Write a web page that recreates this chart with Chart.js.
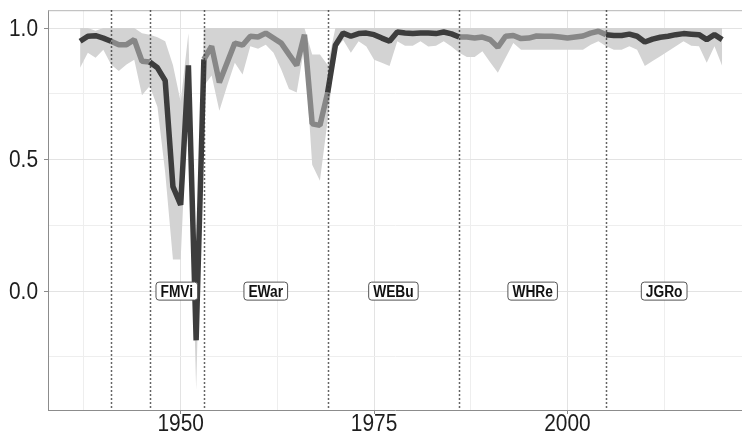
<!DOCTYPE html>
<html>
<head>
<meta charset="utf-8">
<script src="https://cdn.jsdelivr.net/npm/chart.js@4/dist/chart.umd.min.js"></script>
<style>
  html, body { margin: 0; padding: 0; background: #fff; }
  #wrap { width: 742px; height: 437px; }
</style>
</head>
<body>
<div id="wrap"><canvas id="chart" width="742" height="437"></canvas></div>
<script>
// yearly estimate, 1937 - 2020
const years = [];
for (let y = 1937; y <= 2020; y++) years.push(y);

const estimate = [
  0.950, 0.969, 0.971, 0.962, 0.950, 0.937, 0.937, 0.956, 0.874, 0.871,
  0.849, 0.800, 0.397, 0.328, 0.858, -0.187, 0.881, 0.931, 0.793, 0.868,
  0.943, 0.935, 0.969, 0.966, 0.981, 0.962, 0.943, 0.900, 0.858, 0.975,
  0.636, 0.630, 0.755, 0.935, 0.981, 0.969, 0.979, 0.981, 0.975, 0.962,
  0.950, 0.985, 0.981, 0.979, 0.981, 0.981, 0.979, 0.985, 0.978, 0.966,
  0.966, 0.962, 0.966, 0.956, 0.927, 0.969, 0.972, 0.960, 0.962, 0.970,
  0.969, 0.969, 0.966, 0.962, 0.966, 0.970, 0.981, 0.988, 0.975, 0.972,
  0.972, 0.977, 0.969, 0.947, 0.958, 0.965, 0.969, 0.975, 0.979, 0.977,
  0.975, 0.956, 0.975, 0.956
];

const upper = [
  1.0, 1.0, 0.99, 1.0, 1.0, 1.0, 1.0, 1.0, 0.98, 0.975,
  0.965, 0.95, 0.86, 0.72, 0.98, -0.15, 1.0, 1.0, 1.0, 1.0,
  1.0, 1.0, 1.0, 1.0, 1.0, 1.0, 1.0, 1.0, 1.0, 1.0,
  0.90, 0.90, 0.86, 1.0, 1.0, 1.0, 1.0, 1.0, 1.0, 1.0,
  1.0, 1.0, 1.0, 1.0, 1.0, 1.0, 1.0, 1.0, 1.0, 1.0,
  1.0, 1.0, 1.0, 1.0, 1.0, 1.0, 1.0, 1.0, 1.0, 1.0,
  1.0, 1.0, 1.0, 1.0, 1.0, 1.0, 1.0, 1.0, 1.0, 1.0,
  1.0, 1.0, 1.0, 1.0, 1.0, 1.0, 1.0, 1.0, 1.0, 1.0,
  1.0, 1.0, 1.0, 1.0
];

const lower = [
  0.849, 0.906, 0.887, 0.918, 0.862, 0.837, 0.862, 0.880, 0.745, 0.780,
  0.700, 0.450, 0.120, 0.120, 0.780, -0.375, 0.780, 0.820, 0.686, 0.780,
  0.868, 0.824, 0.931, 0.921, 0.937, 0.906, 0.843, 0.768, 0.755, 0.930,
  0.480, 0.420, 0.650, 0.918, 0.955, 0.906, 0.950, 0.930, 0.880, 0.868,
  0.856, 0.950, 0.933, 0.933, 0.950, 0.930, 0.933, 0.950, 0.930, 0.906,
  0.890, 0.890, 0.912, 0.870, 0.830, 0.887, 0.943, 0.918, 0.918, 0.918,
  0.918, 0.918, 0.918, 0.918, 0.918, 0.918, 0.937, 0.950, 0.931, 0.918,
  0.918, 0.931, 0.918, 0.856, 0.875, 0.893, 0.912, 0.931, 0.950, 0.933,
  0.931, 0.868, 0.931, 0.856
];

// era boundaries (dotted lines) and labels
const eraBreaks = [1941, 1946, 1953, 1969, 1986, 2005];
const eraLabels = ["FMVi", "EWar", "WEBu", "WHRe", "JGRo"];
const eraLabelYears = [1949.5, 1961, 1977.5, 1995.5, 2012.5];
// segments starting in these ranges are drawn light
const lightEras = [[1941, 1946], [1953, 1969], [1986, 2005]];

// axis ticks
const xMajorTicks = [1950, 1975, 2000];
const xMinorTicks = [1937.5, 1962.5, 1987.5, 2012.5];
const yMajorTicks = [0, 0.5, 1.0];
const yMinorTicks = [-0.25, 0.25, 0.75];

const DARK = "#3d3d3d";
const LIGHT = "#878787";
const BAND = "#d3d3d3";
const FONT = "'Liberation Sans', Arial, sans-serif";
const SQUEEZE = 0.87; // reference uses a narrow face

function isLight(x) {
  return lightEras.some(r => x >= r[0] && x < r[1]);
}

const toPoints = arr => arr.map((v, i) => ({ x: years[i], y: v }));

// draws narrow text: anchor (x, y), align left/center/right
function narrowText(ctx, text, x, y, align, sq) {
  ctx.save();
  ctx.translate(x, y);
  ctx.scale(sq, 1);
  ctx.textAlign = align;
  ctx.fillText(text, 0, 0);
  ctx.restore();
}

const overlay = {
  id: "overlay",
  afterDatasetsDraw(chart) {
    const { ctx, chartArea, scales } = chart;
    const xs = scales.x, ys = scales.y;
    ctx.save();
    // top border
    ctx.strokeStyle = "#b5b5b5";
    ctx.lineWidth = 1;
    ctx.beginPath();
    ctx.moveTo(chartArea.left, chartArea.top + 0.5);
    ctx.lineTo(chartArea.right, chartArea.top + 0.5);
    ctx.stroke();

    // dotted era lines
    ctx.strokeStyle = "#333";
    ctx.lineWidth = 1.5;
    ctx.setLineDash([1.5, 2.5]);
    eraBreaks.forEach(yr => {
      const px = Math.round(xs.getPixelForValue(yr)) + 0.5;
      ctx.beginPath();
      ctx.moveTo(px, chartArea.top);
      ctx.lineTo(px, chartArea.bottom);
      ctx.stroke();
    });
    ctx.setLineDash([]);

    // era labels
    ctx.font = "bold 16px " + FONT;
    ctx.textBaseline = "middle";
    const cy = ys.getPixelForValue(0);
    eraLabels.forEach((lab, i) => {
      const cx = xs.getPixelForValue(eraLabelYears[i]);
      const w = ctx.measureText(lab).width * 0.86 + 9;
      const h = 18;
      ctx.beginPath();
      ctx.roundRect(cx - w / 2, cy - h / 2, w, h, 3);
      ctx.fillStyle = "#fff";
      ctx.fill();
      ctx.strokeStyle = "#555";
      ctx.lineWidth = 1;
      ctx.stroke();
      ctx.fillStyle = "#111";
      narrowText(ctx, lab, cx, cy + 1, "center", 0.86);
    });
    ctx.restore();
  },
  afterDraw(chart) {
    const { ctx, chartArea, scales } = chart;
    ctx.save();
    ctx.fillStyle = "#1e1e1e";
    ctx.font = "24px " + FONT;
    ctx.textBaseline = "middle";
    yMajorTicks.forEach(v => {
      narrowText(ctx, v.toFixed(1), chartArea.left - 10, scales.y.getPixelForValue(v) + 1, "right", SQUEEZE);
    });
    xMajorTicks.forEach(v => {
      narrowText(ctx, String(v), scales.x.getPixelForValue(v), chartArea.bottom + 14, "center", SQUEEZE);
    });
    ctx.restore();
  }
};

new Chart(document.getElementById("chart"), {
  type: "line",
  data: {
    datasets: [
      {
        data: toPoints(estimate),
        borderWidth: 5.5,
        pointRadius: 0,
        fill: false,
        borderJoinStyle: "bevel",
        segment: {
          borderColor: c => (isLight(c.p0.parsed.x) ? LIGHT : DARK)
        },
        borderColor: DARK
      },
      {
        data: toPoints(upper),
        borderWidth: 0,
        pointRadius: 0,
        fill: "+1",
        backgroundColor: BAND
      },
      {
        data: toPoints(lower),
        borderWidth: 0,
        pointRadius: 0,
        fill: false
      }
    ]
  },
  options: {
    responsive: false,
    animation: false,
    layout: { padding: { top: 7, right: 0, left: 0, bottom: 0 } },
    plugins: { legend: { display: false }, tooltip: { enabled: false } },
    scales: {
      x: {
        type: "linear",
        min: 1932.85,
        max: 2022.56,
        afterBuildTicks: s => {
          s.ticks = [...xMinorTicks, ...xMajorTicks].sort((a, b) => a - b).map(v => ({ value: v }));
        },
        afterFit: s => { s.height = 27; },
        ticks: { autoSkip: false, maxRotation: 0, callback: () => "" },
        grid: {
          color: c => (c.tick && xMajorTicks.includes(c.tick.value) ? "#e3e3e3" : "#eeeeee"),
          tickColor: c => (c.tick && xMajorTicks.includes(c.tick.value) ? "#8c8c8c" : "rgba(0,0,0,0)"),
          tickLength: 4,
          lineWidth: 1
        },
        border: { color: "#8c8c8c", width: 1 }
      },
      y: {
        min: -0.452,
        max: 1.068,
        afterBuildTicks: s => {
          s.ticks = [...yMinorTicks, ...yMajorTicks].sort((a, b) => a - b).map(v => ({ value: v }));
        },
        afterFit: s => { s.width = 48; },
        ticks: { autoSkip: false, callback: () => "" },
        grid: {
          color: c => (c.tick && yMajorTicks.includes(c.tick.value) ? "#e3e3e3" : "#eeeeee"),
          tickColor: c => (c.tick && yMajorTicks.includes(c.tick.value) ? "#8c8c8c" : "rgba(0,0,0,0)"),
          tickLength: 4,
          lineWidth: 1
        },
        border: { color: "#8c8c8c", width: 1 }
      }
    }
  },
  plugins: [overlay]
});
</script>
</body>
</html>
